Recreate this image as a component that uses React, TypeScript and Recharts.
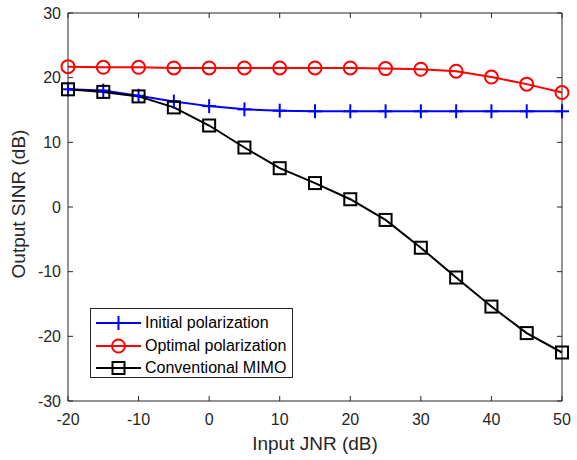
import { Line, LineChart, ReferenceLine, XAxis, YAxis } from "recharts";

const jnr = [-20, -15, -10, -5, 0, 5, 10, 15, 20, 25, 30, 35, 40, 45, 50];
const initialPol = [18.2, 18.0, 17.2, 16.3, 15.6, 15.1, 14.9, 14.8, 14.8, 14.8, 14.8, 14.8, 14.8, 14.8, 14.8];
const optimalPol = [21.7, 21.6, 21.6, 21.5, 21.5, 21.5, 21.5, 21.5, 21.5, 21.4, 21.3, 21.0, 20.1, 19.0, 17.7];
const conventional = [18.2, 17.8, 17.1, 15.4, 12.6, 9.2, 6.0, 3.7, 1.2, -2.0, -6.3, -10.9, -15.4, -19.5, -22.5];
const xTicks = [-20, -10, 0, 10, 20, 30, 40, 50];
const yTicks = [-30, -20, -10, 0, 10, 20, 30];

const data = jnr.map((x, i) => ({
  x,
  initial: initialPol[i],
  optimal: optimalPol[i],
  conventional: conventional[i],
}));

const AXIS = "#262626";
const FONT = "'Liberation Sans', Arial, Helvetica, sans-serif";
const PLOT_W = 494;
const PLOT_H = 388;

const XTick = (props: any) => {
  const { x, y, payload } = props;
  return (
    <g>
      <line x1={x} x2={x} y1={y} y2={y - 5} stroke={AXIS} />
      <line x1={x} x2={x} y1={y - PLOT_H} y2={y - PLOT_H + 5} stroke={AXIS} />
      <text x={x} y={y + 18} textAnchor="middle" dominantBaseline="central" fill={AXIS} fontSize={16} fontFamily={FONT}>
        {payload.value}
      </text>
    </g>
  );
};

const YTick = (props: any) => {
  const { x, y, payload } = props;
  return (
    <g>
      <line x1={x} x2={x + 5} y1={y} y2={y} stroke={AXIS} />
      <line x1={x + PLOT_W} x2={x + PLOT_W - 5} y1={y} y2={y} stroke={AXIS} />
      <text x={x - 7} y={y} textAnchor="end" dominantBaseline="central" fill={AXIS} fontSize={16} fontFamily={FONT}>
        {payload.value}
      </text>
    </g>
  );
};

const PlusDot = ({ cx, cy, color = "#0000ff" }: any) => (
  <g>
    <line x1={cx - 7} x2={cx + 7} y1={cy} y2={cy} stroke={color} strokeWidth={2} />
    <line x1={cx} x2={cx} y1={cy - 7} y2={cy + 7} stroke={color} strokeWidth={2} />
  </g>
);

const CircleDot = ({ cx, cy, color = "#ff0000" }: any) => (
  <circle cx={cx} cy={cy} r={6.5} fill="none" stroke={color} strokeWidth={2} />
);

const SquareDot = ({ cx, cy, color = "#000000" }: any) => (
  <rect x={cx - 6} y={cy - 6} width={12} height={12} fill="none" stroke={color} strokeWidth={2} />
);

const legendItems = [
  { name: "Initial polarization", color: "#0000ff", Marker: PlusDot },
  { name: "Optimal polarization", color: "#ff0000", Marker: CircleDot },
  { name: "Conventional MIMO", color: "#000000", Marker: SquareDot },
];

export default function App() {
  return (
    <div style={{ position: "absolute", left: 0, top: 0, width: 577, height: 460, background: "#fff", fontFamily: FONT }}>
      <LineChart width={577} height={460} data={data} margin={{ top: 13, right: 15, bottom: 0, left: 0 }}>
        <XAxis
          dataKey="x"
          type="number"
          domain={[-20, 50]}
          ticks={xTicks}
          tickSize={0}
          tickMargin={0}
          height={59}
          stroke={AXIS}
          tick={<XTick />}
          interval={0}
        />
        <YAxis
          type="number"
          domain={[-30, 30]}
          ticks={yTicks}
          tickSize={0}
          tickMargin={0}
          width={68}
          stroke={AXIS}
          tick={<YTick />}
          interval={0}
        />
        <ReferenceLine y={30} stroke={AXIS} />
        <ReferenceLine x={50} stroke={AXIS} />
        <Line type="linear" dataKey="initial" stroke="#0000ff" strokeWidth={2} dot={<PlusDot />} isAnimationActive={false} />
        <Line type="linear" dataKey="optimal" stroke="#ff0000" strokeWidth={2} dot={<CircleDot />} isAnimationActive={false} />
        <Line type="linear" dataKey="conventional" stroke="#000000" strokeWidth={2} dot={<SquareDot />} isAnimationActive={false} />
      </LineChart>

      <div
        style={{
          position: "absolute",
          left: 90,
          top: 308,
          width: 203,
          height: 70,
          border: `1px solid ${AXIS}`,
          background: "#fff",
          boxSizing: "border-box",
        }}
      >
        {legendItems.map(({ name, color, Marker }, i) => (
          <div key={name} style={{ position: "absolute", left: 4, top: 3 + i * 22.5, height: 22, display: "flex", alignItems: "center" }}>
            <svg width={48} height={22}>
              <line x1={1} x2={46} y1={11} y2={11} stroke={color} strokeWidth={2} />
              <Marker cx={23.5} cy={11} color={color} />
            </svg>
            <span style={{ fontSize: 16, color: "#000", marginLeft: 2, whiteSpace: "nowrap" }}>{name}</span>
          </div>
        ))}
      </div>

      <div
        style={{
          position: "absolute",
          left: 315,
          top: 444,
          transform: "translate(-50%, -50%)",
          fontSize: 19,
          color: AXIS,
          whiteSpace: "nowrap",
        }}
      >
        Input JNR (dB)
      </div>
      <div
        style={{
          position: "absolute",
          left: 19,
          top: 204,
          transform: "translate(-50%, -50%) rotate(-90deg)",
          fontSize: 19,
          color: AXIS,
          whiteSpace: "nowrap",
        }}
      >
        Output SINR (dB)
      </div>
    </div>
  );
}
